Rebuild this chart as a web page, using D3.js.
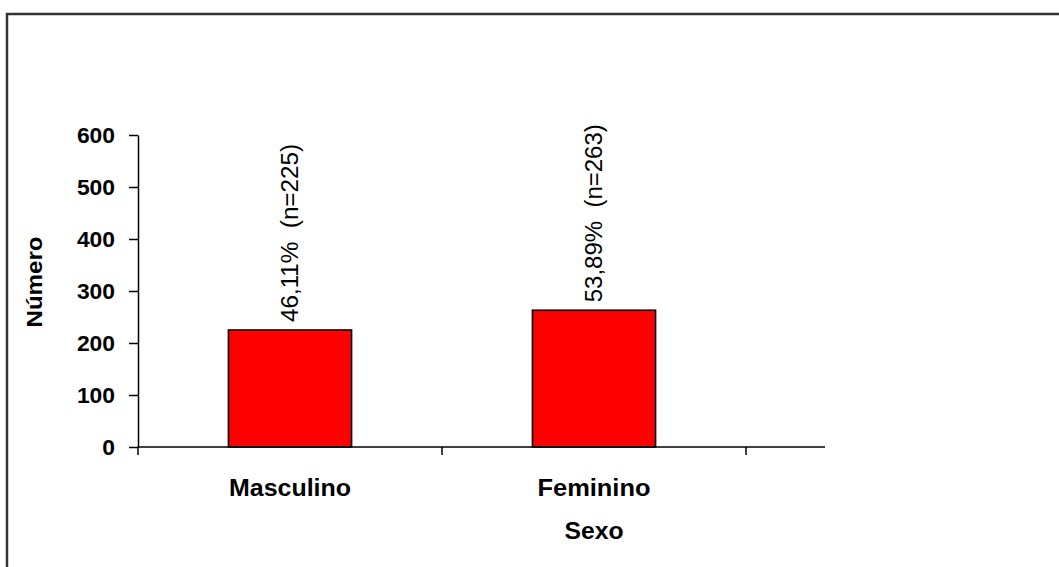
<!DOCTYPE html>
<html>
<head>
<meta charset="utf-8">
<script src="https://cdn.jsdelivr.net/npm/d3@7"></script>
<style>
  html, body { margin: 0; padding: 0; background: #fff; }
  svg { display: block; font-family: "Liberation Sans", Arial, sans-serif; }
</style>
</head>
<body>
<svg id="chart" width="1059" height="567"></svg>
<script>
// Distribution by sex
const categories = ["Masculino", "Feminino"];
const counts = [225, 263];
const percents = ["46,11%", "53,89%"];
const yTicks = [0, 100, 200, 300, 400, 500, 600];
const yTitle = "Número";
const xTitle = "Sexo";

const svg = d3.select("#chart");

// Outer frame
svg.append("rect")
  .attr("x", 7).attr("y", 14)
  .attr("width", 1200).attr("height", 700)
  .attr("fill", "#fff")
  .attr("stroke", "#333").attr("stroke-width", 2.5);

const plot = { left: 138, top: 135, bottom: 447, right: 746, axisEnd: 825 };

const y = d3.scaleLinear().domain([0, 600]).range([plot.bottom, plot.top]);
const x = d3.scaleBand().domain(categories)
  .range([plot.left, plot.right])
  .paddingInner(0.595).paddingOuter(0.2975);

const data = categories.map((c, i) => ({ cat: c, n: counts[i], pct: percents[i] }));

// Bars
svg.append("g").selectAll("rect")
  .data(data).join("rect")
  .attr("x", d => x(d.cat))
  .attr("y", d => y(d.n))
  .attr("width", x.bandwidth())
  .attr("height", d => y(0) - y(d.n))
  .attr("fill", "#ff0000")
  .attr("stroke", "#000").attr("stroke-width", 1.6);

// Y axis
const yAxis = svg.append("g")
  .attr("transform", `translate(${plot.left},0)`)
  .call(d3.axisLeft(y).tickValues(yTicks).tickSize(9).tickSizeOuter(0).tickPadding(14));
yAxis.select(".domain").attr("stroke", "#000").attr("stroke-width", 1.5);
yAxis.selectAll(".tick line").attr("stroke", "#000").attr("stroke-width", 1.5);
yAxis.selectAll(".tick text")
  .attr("fill", "#000")
  .attr("textLength", d => String(d).length * 12.7)
  .attr("lengthAdjust", "spacingAndGlyphs")
  .style("font-size", "22px").style("font-weight", "bold");

// X axis line with category boundary ticks
const xAxis = svg.append("g");
xAxis.append("line")
  .attr("x1", plot.left).attr("x2", plot.axisEnd)
  .attr("y1", y(0)).attr("y2", y(0))
  .attr("stroke", "#000").attr("stroke-width", 1.5);
const boundaryTicks = d3.range(categories.length + 1).map(i => plot.left + i * x.step());
xAxis.selectAll("line.tick")
  .data(boundaryTicks).join("line")
  .attr("class", "tick")
  .attr("x1", d => d).attr("x2", d => d)
  .attr("y1", y(0)).attr("y2", y(0) + 8)
  .attr("stroke", "#000").attr("stroke-width", 1.5);

// Category labels
const catWidths = { "Masculino": 122, "Feminino": 113 };
svg.append("g").selectAll("text")
  .data(categories).join("text")
  .attr("x", d => x(d) + x.bandwidth() / 2)
  .attr("y", 496)
  .attr("text-anchor", "middle")
  .attr("textLength", d => catWidths[d])
  .attr("lengthAdjust", "spacingAndGlyphs")
  .style("font-size", "23px").style("font-weight", "bold")
  .text(d => d);

// Axis titles
svg.append("text")
  .attr("x", x("Feminino") + x.bandwidth() / 2)
  .attr("y", 539)
  .attr("text-anchor", "middle")
  .attr("textLength", 59).attr("lengthAdjust", "spacingAndGlyphs")
  .style("font-size", "23px").style("font-weight", "bold")
  .text(xTitle);

svg.append("text")
  .attr("transform", "translate(42,282) rotate(-90)")
  .attr("text-anchor", "middle")
  .attr("textLength", 91).attr("lengthAdjust", "spacingAndGlyphs")
  .style("font-size", "22px").style("font-weight", "bold")
  .text(yTitle);

// Value labels above bars
svg.append("g").selectAll("text")
  .data(data).join("text")
  .attr("transform", d => `translate(${x(d.cat) + x.bandwidth() / 2},${y(d.n) - 8}) rotate(-90)`)
  .attr("dy", "0.36em")
  .attr("text-anchor", "start")
  .attr("textLength", 178).attr("lengthAdjust", "spacingAndGlyphs")
  .style("font-size", "23px")
  .style("white-space", "pre")
  .text(d => `${d.pct}  (n=${d.n})`);
</script>
</body>
</html>
